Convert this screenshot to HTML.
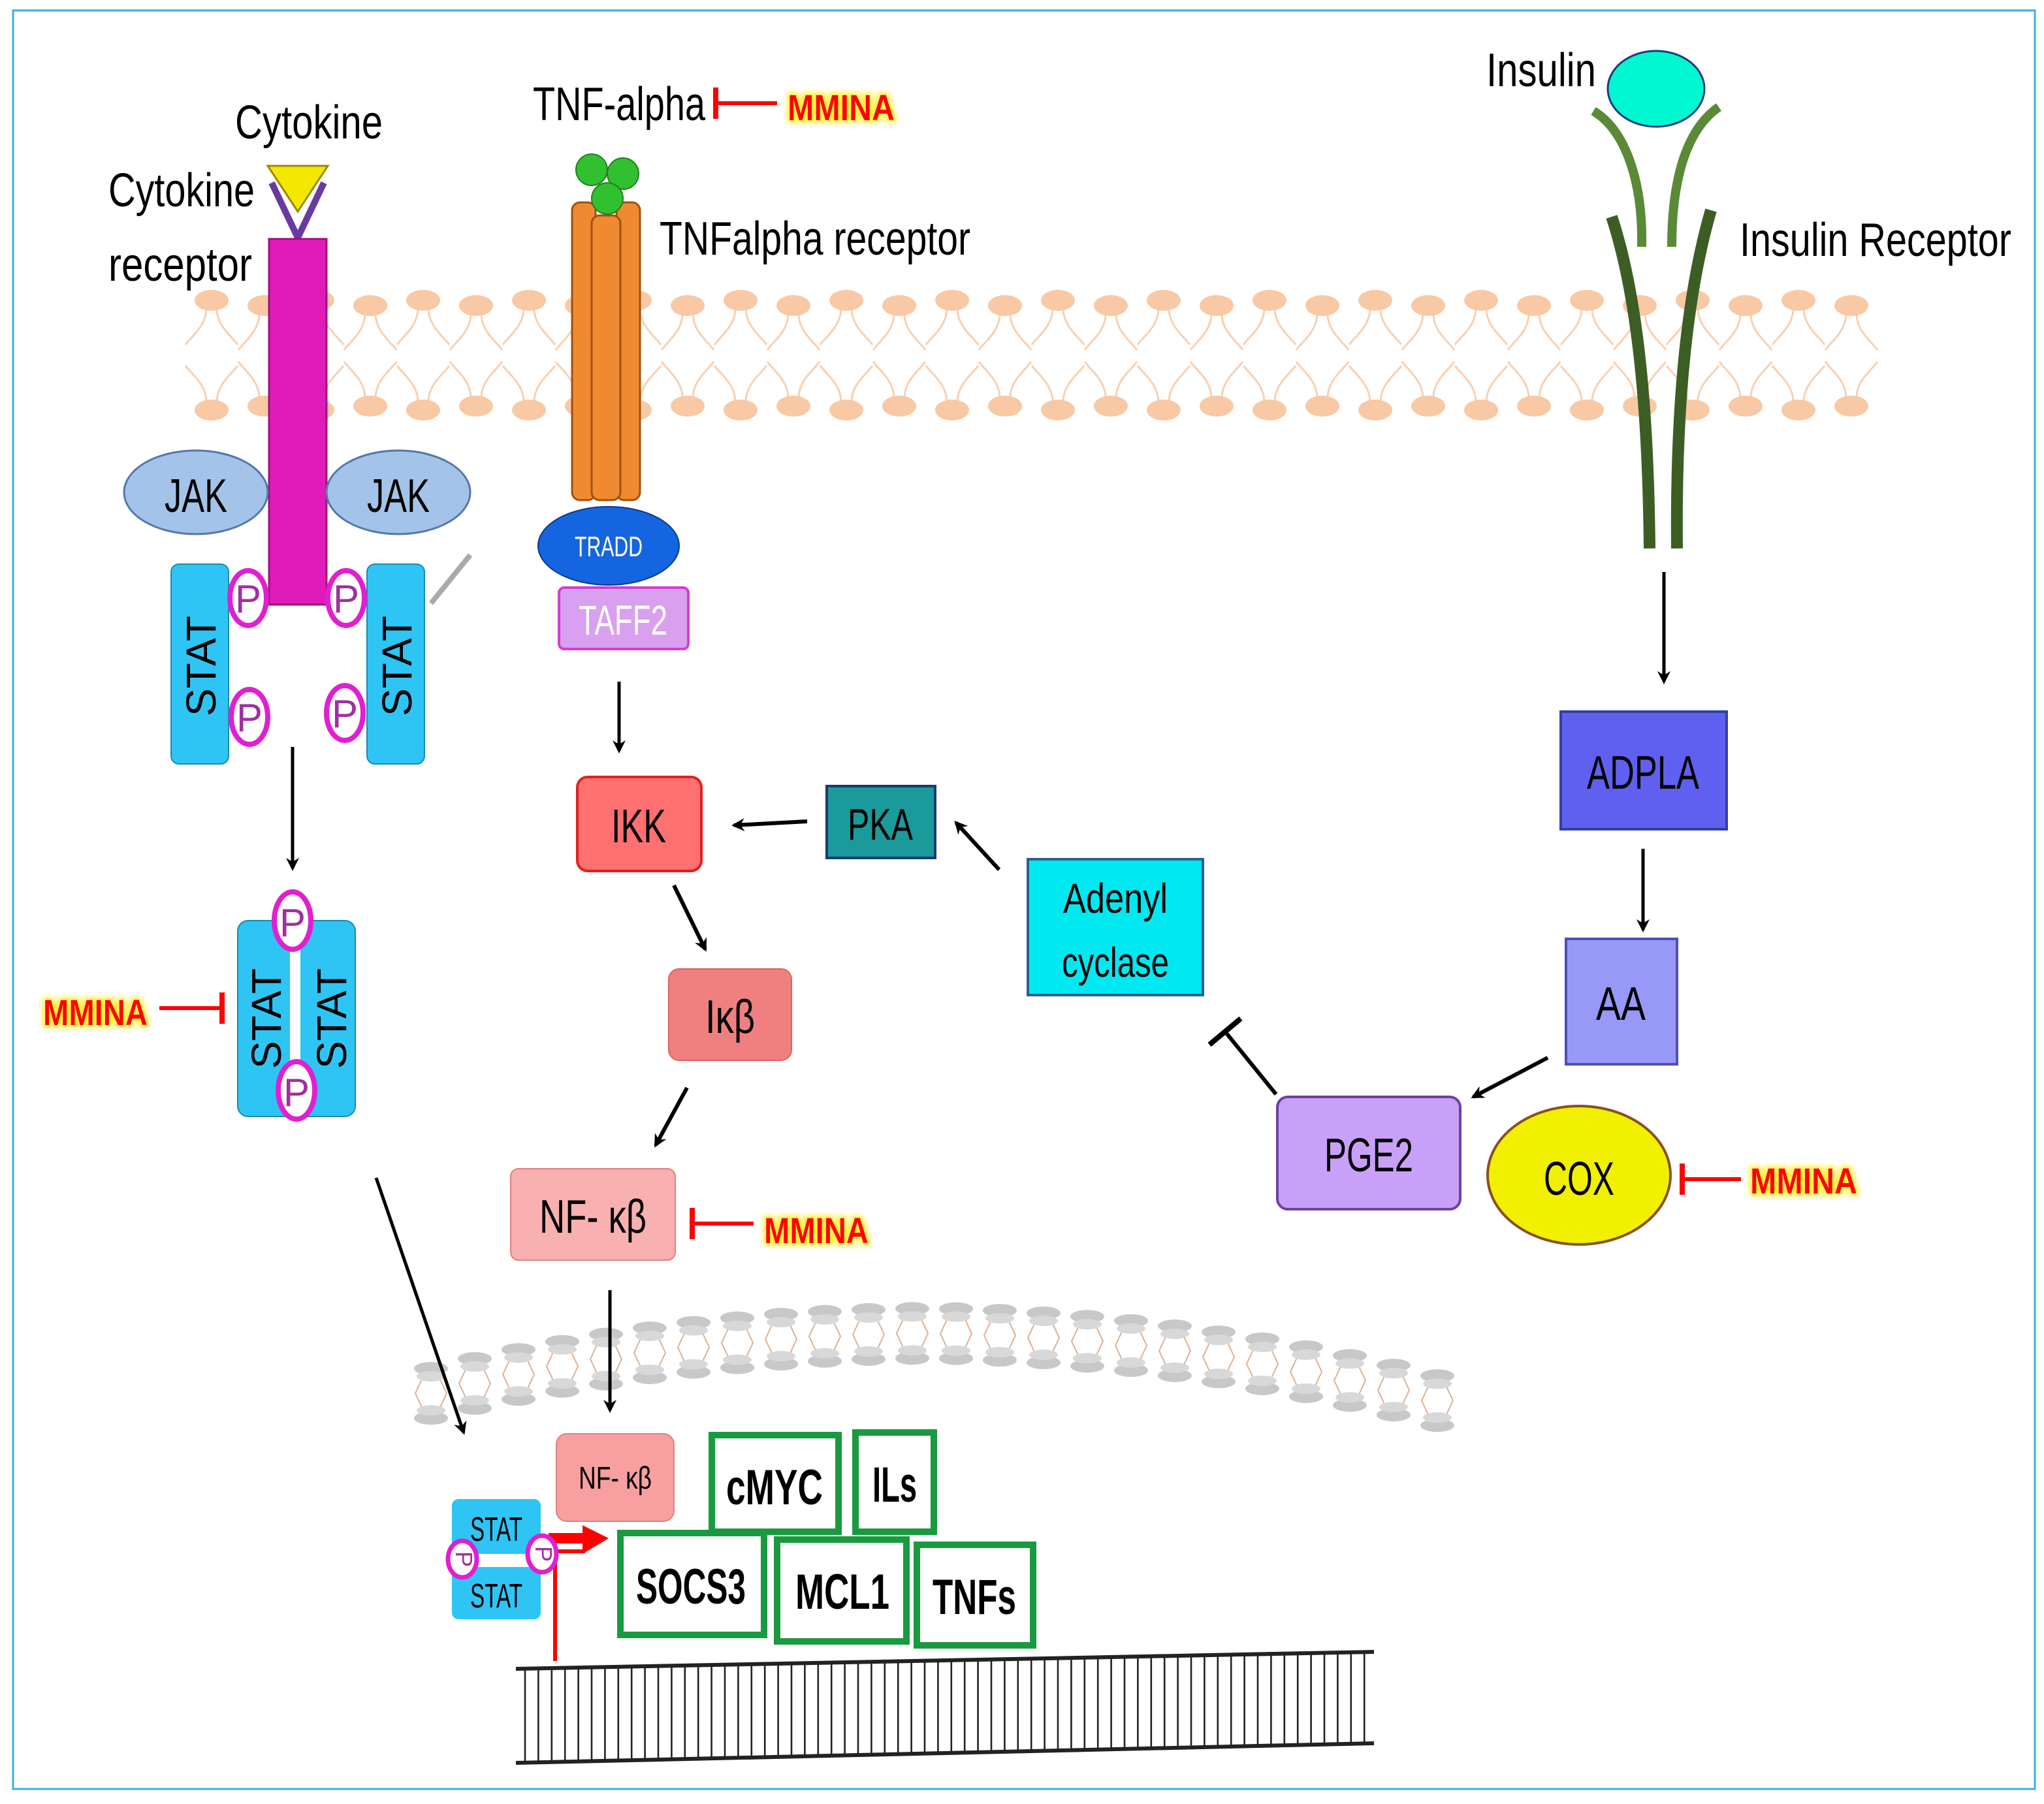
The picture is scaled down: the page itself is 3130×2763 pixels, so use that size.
<!DOCTYPE html>
<html><head><meta charset="utf-8">
<style>
html,body{margin:0;padding:0;background:#fff;}
svg{display:block;}
text{font-family:"Liberation Sans Narrow","Liberation Sans",sans-serif;}
</style></head>
<body>
<svg id="s" xmlns="http://www.w3.org/2000/svg" width="3130" height="2763" viewBox="0 0 1565 1381.5">
<defs>
<marker id="ar" markerWidth="10" markerHeight="10" refX="8" refY="5" orient="auto" markerUnits="userSpaceOnUse">
<path d="M0,0 L10,5 L0,10 L3,5 z" fill="#000"/></marker>
<filter id="glow" x="-20%" y="-40%" width="140%" height="180%"><feMorphology operator="dilate" radius="2" in="SourceAlpha" result="d"/><feGaussianBlur in="d" stdDeviation="2" result="b"/><feFlood flood-color="#ffef40"/><feComposite in2="b" operator="in" result="y"/><feMerge><feMergeNode in="y"/><feMergeNode in="SourceGraphic"/></feMerge></filter>
</defs>
<rect x="0" y="0" width="1565" height="1381.5" fill="#fff"/>
<rect x="10" y="8" width="1548" height="1362" fill="none" stroke="#3bb0e0" stroke-width="1.5"/>
<g id="lipids"></g>
<g id="nuc"></g>
<g id="dna"></g>

<!-- Cytokine side -->
<text x="180" y="106" font-size="36" textLength="113" lengthAdjust="spacingAndGlyphs">Cytokine</text>
<text x="83" y="158" font-size="36" textLength="112" lengthAdjust="spacingAndGlyphs">Cytokine</text>
<text x="83" y="215" font-size="36" textLength="110" lengthAdjust="spacingAndGlyphs">receptor</text>
<polyline points="208,140 228,182 248,140" fill="none" stroke="#6a3aa0" stroke-width="5"/>
<polygon points="205,127 251,127 228,162" fill="#f4e800" stroke="#9a8a00" stroke-width="1.5"/>
<rect x="206" y="183" width="44" height="280" fill="#e01cb8" stroke="#a01080" stroke-width="1.5"/>
<ellipse cx="150" cy="377" rx="55" ry="32" fill="#a3c4e8" stroke="#5577aa" stroke-width="1.5"/>
<text x="150" y="392" font-size="36" text-anchor="middle" textLength="48" lengthAdjust="spacingAndGlyphs">JAK</text>
<ellipse cx="305" cy="377" rx="55" ry="32" fill="#a3c4e8" stroke="#5577aa" stroke-width="1.5"/>
<text x="305" y="392" font-size="36" text-anchor="middle" textLength="48" lengthAdjust="spacingAndGlyphs">JAK</text>
<rect x="131" y="432" width="44" height="153" rx="6" fill="#2ec5f5" stroke="#1a8ab0"/>
<text transform="translate(165,510) rotate(-90)" font-size="32" text-anchor="middle">STAT</text>
<rect x="281" y="432" width="44" height="153" rx="6" fill="#2ec5f5" stroke="#1a8ab0"/>
<text transform="translate(315,510) rotate(-90)" font-size="32" text-anchor="middle">STAT</text>
<g fill="#fff" stroke="#e020d0" stroke-width="4">
<ellipse cx="190" cy="458" rx="14" ry="21"/><ellipse cx="191" cy="549" rx="14" ry="21"/>
<ellipse cx="265" cy="458" rx="14" ry="21"/><ellipse cx="264" cy="546" rx="14" ry="21"/>
</g>
<g font-size="30" fill="#a030a0" text-anchor="middle">
<text x="190" y="469">P</text><text x="191" y="560">P</text><text x="265" y="469">P</text><text x="264" y="557">P</text>
</g>
<line x1="330" y1="462" x2="360" y2="425" stroke="#aaa" stroke-width="4"/>
<line x1="224" y1="572" x2="224" y2="665" stroke="#000" stroke-width="2.5" marker-end="url(#ar)"/>
<rect x="182" y="705" width="90" height="150" rx="8" fill="#2ec5f5" stroke="#1a8ab0"/>
<rect x="222" y="715" width="8" height="130" fill="#fff"/>
<text transform="translate(215,780) rotate(-90)" font-size="32" text-anchor="middle">STAT</text>
<text transform="translate(265,780) rotate(-90)" font-size="32" text-anchor="middle">STAT</text>
<g fill="#fff" stroke="#e020d0" stroke-width="4">
<ellipse cx="224" cy="705" rx="14" ry="22"/><ellipse cx="227" cy="835" rx="14" ry="22"/></g>
<text x="224" y="717" font-size="30" fill="#a030a0" text-anchor="middle">P</text>
<text x="227" y="847" font-size="30" fill="#a030a0" text-anchor="middle">P</text>
<text x="33" y="785" font-size="28" font-weight="bold" fill="#f00" filter="url(#glow)" textLength="80" lengthAdjust="spacingAndGlyphs">MMINA</text>
<line x1="122" y1="772" x2="170" y2="772" stroke="#f00" stroke-width="3"/>
<line x1="170" y1="760" x2="170" y2="784" stroke="#f00" stroke-width="4"/>
<line x1="288" y1="902" x2="355" y2="1097" stroke="#000" stroke-width="2.5" marker-end="url(#ar)"/>

<!-- TNF side -->
<text x="408" y="92" font-size="36" textLength="132" lengthAdjust="spacingAndGlyphs">TNF-alpha</text>
<line x1="548" y1="79" x2="595" y2="79" stroke="#f00" stroke-width="3"/>
<line x1="548" y1="67" x2="548" y2="91" stroke="#f00" stroke-width="4"/>
<text x="603" y="92" font-size="28" font-weight="bold" fill="#f00" filter="url(#glow)" textLength="82" lengthAdjust="spacingAndGlyphs">MMINA</text>
<g fill="#f08a30" stroke="#a05010" stroke-width="1.5">
<rect x="438" y="155" width="18" height="228" rx="6"/><rect x="472" y="155" width="18" height="228" rx="6"/><rect x="453" y="165" width="22" height="218" rx="6"/>
</g>
<g fill="#30c030" stroke="#208020"><circle cx="453" cy="130" r="12"/><circle cx="477" cy="133" r="12"/><circle cx="465" cy="152" r="12"/></g>
<text x="505" y="195" font-size="36" textLength="238" lengthAdjust="spacingAndGlyphs">TNFalpha receptor</text>
<ellipse cx="466" cy="418" rx="54" ry="30" fill="#1565e0" stroke="#0a3a90"/>
<text x="466" y="426" font-size="22" fill="#fff" text-anchor="middle" textLength="52" lengthAdjust="spacingAndGlyphs">TRADD</text>
<rect x="428" y="450" width="99" height="47" rx="4" fill="#d9a0f0" stroke="#d040d0" stroke-width="2"/>
<text x="477" y="486" font-size="32" fill="#fff" text-anchor="middle" textLength="68" lengthAdjust="spacingAndGlyphs">TAFF2</text>
<line x1="474" y1="522" x2="474" y2="575" stroke="#000" stroke-width="2.5" marker-end="url(#ar)"/>
<rect x="442" y="595" width="95" height="72" rx="8" fill="#ff7070" stroke="#e02020" stroke-width="2"/>
<text x="489" y="645" font-size="36" text-anchor="middle" textLength="42" lengthAdjust="spacingAndGlyphs">IKK</text>
<line x1="618" y1="629" x2="562" y2="632" stroke="#000" stroke-width="3" marker-end="url(#ar)"/>
<rect x="633" y="602" width="83" height="55" fill="#1a9a9a" stroke="#1a3a70" stroke-width="2"/>
<text x="674" y="643" font-size="34" text-anchor="middle" textLength="50" lengthAdjust="spacingAndGlyphs">PKA</text>
<line x1="765" y1="666" x2="732" y2="630" stroke="#000" stroke-width="3" marker-end="url(#ar)"/>
<rect x="787" y="658" width="134" height="104" fill="#00e8f0" stroke="#2a6090" stroke-width="2"/>
<text x="854" y="699" font-size="32" text-anchor="middle" textLength="80" lengthAdjust="spacingAndGlyphs">Adenyl</text>
<text x="854" y="748" font-size="32" text-anchor="middle" textLength="82" lengthAdjust="spacingAndGlyphs">cyclase</text>
<line x1="516" y1="678" x2="540" y2="727" stroke="#000" stroke-width="3" marker-end="url(#ar)"/>
<rect x="512" y="742" width="94" height="70" rx="8" fill="#f08080" stroke="#e06060"/>
<text x="559" y="791" font-size="36" text-anchor="middle" textLength="38" lengthAdjust="spacingAndGlyphs">Iκβ</text>
<line x1="526" y1="833" x2="502" y2="877" stroke="#000" stroke-width="3" marker-end="url(#ar)"/>
<rect x="391" y="895" width="126" height="70" rx="6" fill="#f8b0b0" stroke="#e08080"/>
<text x="454" y="944" font-size="36" text-anchor="middle" textLength="82" lengthAdjust="spacingAndGlyphs">NF- κβ</text>
<line x1="530" y1="937" x2="577" y2="937" stroke="#f00" stroke-width="3"/>
<line x1="530" y1="925" x2="530" y2="949" stroke="#f00" stroke-width="4"/>
<text x="585" y="952" font-size="28" font-weight="bold" fill="#f00" filter="url(#glow)" textLength="80" lengthAdjust="spacingAndGlyphs">MMINA</text>
<line x1="467" y1="988" x2="467" y2="1080" stroke="#000" stroke-width="2.5" marker-end="url(#ar)"/>

<!-- Insulin side -->
<text x="1138" y="66" font-size="36" textLength="84" lengthAdjust="spacingAndGlyphs">Insulin</text>
<g fill="none" stroke-linecap="butt">
<path d="M1234,166 C1255,230 1262,320 1263,420" stroke="#3c5e24" stroke-width="9"/>
<path d="M1310,161 C1290,230 1283,320 1284,420" stroke="#3c5e24" stroke-width="9"/>
<path d="M1220,85 C1245,100 1258,140 1257,189" stroke="#5a8a38" stroke-width="7"/>
<path d="M1316,82 C1290,100 1280,140 1280,189" stroke="#5a8a38" stroke-width="7"/>
</g>
<ellipse cx="1268" cy="68" rx="37" ry="29" fill="#00f8d0" stroke="#1a3a80" stroke-width="1.5"/>
<text x="1332" y="196" font-size="36" textLength="208" lengthAdjust="spacingAndGlyphs">Insulin Receptor</text>
<line x1="1274" y1="438" x2="1274" y2="522" stroke="#000" stroke-width="2.5" marker-end="url(#ar)"/>
<rect x="1195" y="545" width="127" height="90" fill="#6060f0" stroke="#3040a0" stroke-width="2"/>
<text x="1258" y="604" font-size="36" text-anchor="middle" textLength="86" lengthAdjust="spacingAndGlyphs">ADPLA</text>
<line x1="1258" y1="650" x2="1258" y2="712" stroke="#000" stroke-width="2.5" marker-end="url(#ar)"/>
<rect x="1199" y="719" width="85" height="96" fill="#9898f8" stroke="#5050b0" stroke-width="2"/>
<text x="1241" y="781" font-size="36" text-anchor="middle" textLength="38" lengthAdjust="spacingAndGlyphs">AA</text>
<line x1="1185" y1="810" x2="1128" y2="840" stroke="#000" stroke-width="3" marker-end="url(#ar)"/>
<rect x="978" y="840" width="140" height="86" rx="8" fill="#c8a0f8" stroke="#7040a0" stroke-width="2"/>
<text x="1048" y="897" font-size="36" text-anchor="middle" textLength="68" lengthAdjust="spacingAndGlyphs">PGE2</text>
<line x1="977" y1="838" x2="938" y2="790" stroke="#000" stroke-width="3"/>
<line x1="926" y1="800" x2="950" y2="780" stroke="#000" stroke-width="4"/>
<ellipse cx="1209" cy="900" rx="70" ry="53" fill="#f0f000" stroke="#8a5020" stroke-width="2"/>
<text x="1209" y="915" font-size="36" text-anchor="middle" textLength="54" lengthAdjust="spacingAndGlyphs">COX</text>
<line x1="1288" y1="903" x2="1333" y2="903" stroke="#f00" stroke-width="3"/>
<line x1="1288" y1="891" x2="1288" y2="915" stroke="#f00" stroke-width="4"/>
<text x="1340" y="914" font-size="28" font-weight="bold" fill="#f00" filter="url(#glow)" textLength="82" lengthAdjust="spacingAndGlyphs">MMINA</text>

<!-- Nucleus -->
<rect x="426" y="1098" width="90" height="67" rx="8" fill="#f8a0a0" stroke="#e08080"/>
<text x="471" y="1140" font-size="24" text-anchor="middle" textLength="56" lengthAdjust="spacingAndGlyphs">NF- κβ</text>
<g fill="#fff" stroke="#1a9a40" stroke-width="5">
<rect x="545" y="1099" width="97" height="74"/><rect x="655" y="1097" width="60" height="76"/>
<rect x="475" y="1174" width="110" height="78"/><rect x="595" y="1179" width="99" height="78"/><rect x="702" y="1183" width="89" height="77"/>
</g>
<g font-size="38" font-weight="bold" text-anchor="middle">
<text x="593" y="1152" textLength="74" lengthAdjust="spacingAndGlyphs">cMYC</text>
<text x="685" y="1150" textLength="34" lengthAdjust="spacingAndGlyphs">ILs</text>
<text x="529" y="1228" textLength="84" lengthAdjust="spacingAndGlyphs">SOCS3</text>
<text x="645" y="1232" textLength="72" lengthAdjust="spacingAndGlyphs">MCL1</text>
<text x="746" y="1236" textLength="64" lengthAdjust="spacingAndGlyphs">TNFs</text>
</g>
<rect x="346" y="1148" width="68" height="42" rx="5" fill="#2ec5f5"/>
<rect x="346" y="1200" width="68" height="40" rx="5" fill="#2ec5f5"/>
<text x="380" y="1180" font-size="26" text-anchor="middle" textLength="40" lengthAdjust="spacingAndGlyphs">STAT</text>
<text x="380" y="1231" font-size="26" text-anchor="middle" textLength="40" lengthAdjust="spacingAndGlyphs">STAT</text>
<path d="M425,1272 L425,1188 L448,1188" fill="none" stroke="#f00" stroke-width="3"/>
<rect x="420" y="1174" width="28" height="8" fill="#f00"/>
<polygon points="446,1168 466,1178 446,1190" fill="#f00"/>
<g fill="#fff" stroke="#e020d0" stroke-width="3.5">
<ellipse cx="354" cy="1194" rx="11" ry="14"/><ellipse cx="415" cy="1190" rx="11" ry="14"/></g>
<text transform="translate(349,1194) rotate(90)" font-size="18" fill="#a030a0" text-anchor="middle">P</text>
<text transform="translate(410,1190) rotate(90)" font-size="18" fill="#a030a0" text-anchor="middle">P</text>
</svg>
<script>
(function(){
var NS="http://www.w3.org/2000/svg";
function el(p,t,a){var e=document.createElementNS(NS,t);for(var k in a)e.setAttribute(k,a[k]);p.appendChild(e);return e;}
var L=document.getElementById('lipids');
for(var x=162;x<=1420;x+=40.5){
 var t=230+((Math.round((x-162)/40.5))%2)*4;
 el(L,'path',{d:'M'+(x-4)+','+(t+6)+' C'+(x-4)+','+(t+20)+' '+(x-16)+','+(t+28)+' '+(x-20)+','+(t+34)+' M'+(x+4)+','+(t+6)+' C'+(x+4)+','+(t+20)+' '+(x+16)+','+(t+28)+' '+(x+20)+','+(t+34),fill:'none',stroke:'#f8d0b0','stroke-width':1.5});
 var b=314-((Math.round((x-162)/40.5))%2)*3;
 el(L,'path',{d:'M'+(x-4)+','+(b-6)+' C'+(x-4)+','+(b-20)+' '+(x-16)+','+(b-28)+' '+(x-20)+','+(b-34)+' M'+(x+4)+','+(b-6)+' C'+(x+4)+','+(b-20)+' '+(x+16)+','+(b-28)+' '+(x+20)+','+(b-34),fill:'none',stroke:'#f8d0b0','stroke-width':1.5});
 el(L,'ellipse',{cx:x,cy:t,rx:13,ry:8,fill:'#f8c9a4'});
 el(L,'ellipse',{cx:x,cy:b,rx:13,ry:8,fill:'#f8c9a4'});
}
var N=document.getElementById('nuc');
for(var x=330;x<=1102;x+=33.5){
 var u=(x-720)/390; var ty=1002+46*u*u+(x>720?8*u:0);
 var by=ty+38;
 el(N,'path',{d:'M'+(x-5)+','+(ty+4)+' L'+(x-12)+','+(ty+19)+' L'+(x-5)+','+(by-4)+' M'+(x+5)+','+(ty+4)+' L'+(x+12)+','+(ty+19)+' L'+(x+5)+','+(by-4),fill:'none',stroke:'#e0b090','stroke-width':1});
 el(N,'ellipse',{cx:x,cy:ty,rx:13,ry:5,fill:'#c8c8c8'});
 el(N,'ellipse',{cx:x,cy:ty+6,rx:11,ry:4,fill:'#d8d8d8'});
 el(N,'ellipse',{cx:x,cy:by,rx:13,ry:5,fill:'#c8c8c8'});
 el(N,'ellipse',{cx:x,cy:by-6,rx:11,ry:4,fill:'#d8d8d8'});
}
var D=document.getElementById('dna');
el(D,'line',{x1:395,y1:1278,x2:1052,y2:1265,stroke:'#222','stroke-width':3});
el(D,'line',{x1:395,y1:1350,x2:1052,y2:1335,stroke:'#222','stroke-width':3});
for(var x=402;x<1048;x+=10.2){
 var f=(x-395)/657;
 el(D,'line',{x1:x,y1:1278-13*f,x2:x,y2:1350-15*f,stroke:'#222','stroke-width':1.3});
}
})();
</script>
</body></html>
